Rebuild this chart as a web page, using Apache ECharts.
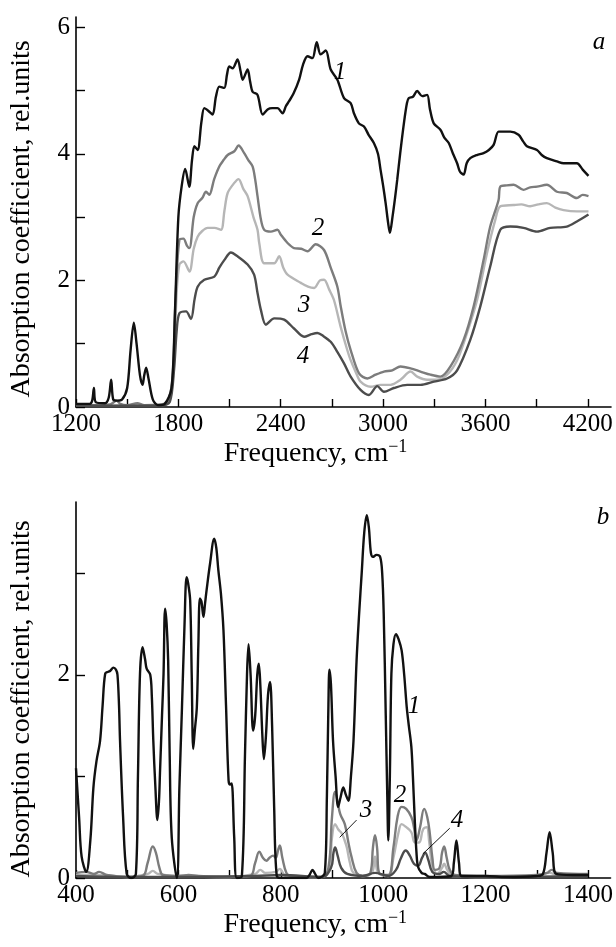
<!DOCTYPE html>
<html>
<head>
<meta charset="utf-8">
<script src="https://cdn.jsdelivr.net/npm/echarts@6/dist/echarts.min.js"></script>
<style>
html,body{margin:0;padding:0;background:#fff;}
#chart{width:616px;height:947px;}
</style>
</head>
<body>
<div id="chart"></div>
<script>
// ---------- Panel a (top) ----------
const topXTicks = [1200,1500,1800,2100,2400,2700,3000,3300,3600,3900,4200];
const topXLabels = [1200,1800,2400,3000,3600,4200];
const topYTicks = [0,1,2,3,4,5,6];
const topYLabels = [0,2,4,6];

const topCurve1 = [[1200,0.05],[1280,0.05],[1295,0.1],[1305,0.3],[1315,0.08],[1370,0.06],[1392,0.15],[1406,0.43],[1418,0.12],[1440,0.1],[1470,0.12],[1500,0.3],[1520,0.9],[1539,1.33],[1555,1.0],[1575,0.5],[1590,0.35],[1600,0.5],[1611,0.62],[1625,0.45],[1650,0.12],[1680,0.03],[1720,0.05],[1760,0.3],[1780,1.5],[1800,3.0],[1820,3.5],[1840,3.76],[1864,3.48],[1880,3.9],[1894,4.12],[1913,4.06],[1935,4.5],[1952,4.72],[1975,4.68],[2001,4.62],[2020,4.9],[2040,5.06],[2069,5.04],[2085,5.25],[2098,5.38],[2118,5.35],[2147,5.49],[2165,5.3],[2177,5.17],[2206,5.33],[2220,5.15],[2235,4.98],[2264,4.93],[2294,4.62],[2323,4.70],[2350,4.72],[2381,4.72],[2411,4.64],[2430,4.75],[2449,4.83],[2475,4.95],[2508,5.17],[2530,5.4],[2557,5.54],[2586,5.51],[2611,5.76],[2634,5.57],[2664,5.63],[2693,5.33],[2732,5.17],[2771,4.88],[2810,4.80],[2829,4.64],[2858,4.48],[2888,4.43],[2915,4.3],[2946,4.17],[2970,4.0],[2985,3.75],[3000,3.5],[3015,3.22],[3030,2.9],[3040,2.75],[3055,3.0],[3070,3.3],[3083,3.59],[3100,4.0],[3122,4.48],[3140,4.8],[3151,4.88],[3175,4.9],[3200,4.99],[3229,4.91],[3258,4.93],[3275,4.7],[3297,4.48],[3336,4.38],[3360,4.25],[3385,4.17],[3410,4.0],[3434,3.85],[3450,3.72],[3472,3.67],[3490,3.85],[3511,3.93],[3550,3.98],[3589,4.01],[3620,4.06],[3648,4.14],[3677,4.35],[3710,4.35],[3746,4.35],[3794,4.30],[3820,4.2],[3843,4.12],[3902,4.06],[3930,3.98],[3960,3.93],[4019,3.88],[4058,3.85],[4100,3.85],[4136,3.85],[4170,3.75],[4204,3.65]];
const topCurve2 = [[1200,0.03],[1300,0.03],[1400,0.04],[1437,0.1],[1460,0.05],[1500,0.03],[1560,0.06],[1600,0.03],[1700,0.04],[1740,0.1],[1767,0.5],[1785,1.8],[1806,2.64],[1830,2.66],[1850,2.55],[1865,2.51],[1890,3.0],[1913,3.22],[1940,3.3],[1962,3.40],[1981,3.35],[2010,3.6],[2040,3.80],[2065,3.9],[2089,3.98],[2128,4.04],[2153,4.13],[2186,4.01],[2210,3.9],[2235,3.80],[2250,3.6],[2264,3.33],[2284,2.96],[2303,2.80],[2342,2.77],[2381,2.80],[2401,2.72],[2440,2.59],[2478,2.51],[2520,2.5],[2557,2.46],[2605,2.57],[2654,2.48],[2693,2.2],[2732,1.90],[2751,1.6],[2780,1.2],[2810,0.90],[2859,0.53],[2908,0.45],[2956,0.51],[3005,0.56],[3054,0.58],[3102,0.64],[3161,0.61],[3219,0.56],[3278,0.51],[3336,0.48],[3395,0.64],[3472,1.06],[3531,1.59],[3589,2.32],[3628,2.85],[3677,3.27],[3687,3.48],[3725,3.5],[3765,3.51],[3823,3.43],[3862,3.47],[3902,3.48],[3960,3.51],[4019,3.40],[4077,3.38],[4136,3.30],[4170,3.35],[4204,3.33]];
const topCurve3 = [[1200,0.02],[1400,0.02],[1500,0.03],[1700,0.03],[1750,0.1],[1775,0.8],[1790,1.8],[1806,2.25],[1830,2.3],[1865,2.14],[1890,2.5],[1913,2.69],[1940,2.78],[1972,2.83],[2011,2.83],[2050,2.80],[2070,3.1],[2089,3.38],[2128,3.54],[2153,3.60],[2180,3.45],[2206,3.33],[2240,3.0],[2264,2.80],[2274,2.59],[2303,2.27],[2362,2.27],[2391,2.38],[2415,2.2],[2440,2.09],[2518,1.96],[2560,1.9],[2596,1.88],[2630,2.0],[2654,2.01],[2685,1.85],[2712,1.69],[2751,1.27],[2790,0.9],[2810,0.74],[2840,0.55],[2868,0.40],[2927,0.32],[2985,0.35],[3044,0.35],[3102,0.43],[3161,0.56],[3200,0.48],[3258,0.43],[3317,0.43],[3375,0.51],[3434,0.74],[3492,1.17],[3551,1.69],[3609,2.43],[3658,2.96],[3687,3.17],[3765,3.19],[3810,3.2],[3862,3.17],[3910,3.2],[3960,3.22],[4010,3.15],[4058,3.11],[4136,3.09],[4204,3.09]];
const topCurve4 = [[1200,0.02],[1500,0.02],[1700,0.02],[1750,0.08],[1775,0.6],[1790,1.2],[1806,1.48],[1845,1.51],[1874,1.39],[1895,1.7],[1913,1.90],[1952,2.01],[2011,2.06],[2040,2.2],[2069,2.32],[2108,2.44],[2147,2.38],[2206,2.25],[2244,2.09],[2264,1.8],[2284,1.53],[2313,1.30],[2362,1.40],[2420,1.38],[2478,1.24],[2537,1.11],[2580,1.15],[2615,1.17],[2650,1.12],[2693,1.03],[2730,0.88],[2771,0.69],[2810,0.48],[2868,0.27],[2917,0.19],[2966,0.33],[3005,0.24],[3063,0.30],[3141,0.35],[3219,0.35],[3297,0.40],[3375,0.45],[3434,0.58],[3511,1.06],[3570,1.59],[3628,2.22],[3687,2.80],[3746,2.85],[3823,2.83],[3902,2.77],[3980,2.83],[4077,2.85],[4136,2.93],[4204,3.04]];

// ---------- Panel b (bottom) ----------
const botXTicks = [400,500,600,700,800,900,1000,1100,1200,1300,1400];
const botXLabels = [400,600,800,1000,1200,1400];
const botYTicks = [0,1,2,3];
const botYLabels = [0,2];

const botCurve1 = [[400,1.08],[406,0.6],[411,0.21],[420,0.06],[428,0.37],[434,0.89],[440,1.15],[447,1.35],[452,1.7],[457,2.01],[463,2.03],[467,2.04],[473,2.07],[478,2.05],[481,2.0],[484,1.7],[486,1.35],[492,0.6],[499,0.04],[508,0],[517,0.04],[521,1.0],[525,2.01],[530,2.27],[535,2.15],[538,2.06],[545,2.0],[548,1.8],[551,1.35],[555,0.9],[559,0.57],[562,0.75],[564,1.03],[568,1.6],[571,2.01],[574,2.65],[577,2.5],[580,2.14],[583,1.2],[587,0.4],[597,0],[602,0.9],[607,1.68],[612,2.5],[616,2.96],[619,2.9],[623,2.73],[626,2.0],[629,1.27],[632,1.45],[636,1.68],[639,2.3],[642,2.75],[645,2.72],[649,2.57],[652,2.7],[655,2.83],[662,3.1],[670,3.34],[674,3.25],[678,3.03],[683,2.8],[688,2.44],[693,1.7],[698,0.96],[701,0.92],[704,0.93],[709,0.4],[714,0],[724,0.02],[730,1.2],[734,2.0],[737,2.30],[741,2.0],[746,1.45],[750,1.6],[754,2.0],[757,2.11],[760,1.9],[764,1.4],[767,1.17],[771,1.4],[775,1.8],[779,1.93],[783,1.5],[787,0.7],[792,0.02],[800,0],[850,0],[856,0.03],[862,0.08],[867,0.04],[873,0],[886,0.05],[890,0.8],[893,1.7],[895,2.05],[898,1.9],[902,1.35],[907,1.0],[912,0.70],[917,0.8],[922,0.89],[927,0.82],[932,0.76],[937,1.0],[942,1.35],[948,2.14],[953,2.6],[958,3.0],[963,3.4],[968,3.57],[972,3.45],[976,3.2],[980,3.16],[987,3.18],[994,3.16],[998,3.0],[1001,2.6],[1005,1.6],[1008,0.8],[1010,0.37],[1013,1.0],[1016,2.01],[1020,2.3],[1025,2.40],[1030,2.35],[1036,2.24],[1041,2.0],[1046,1.68],[1050,1.5],[1055,1.29],[1058,1.0],[1062,0.53],[1065,0.25],[1068,0.11],[1075,0.05],[1081,0.04],[1091,0.01],[1133,0.02],[1138,0.15],[1143,0.37],[1148,0.15],[1153,0.02],[1200,0.02],[1240,0.01],[1300,0.02],[1312,0.04],[1319,0.25],[1325,0.45],[1331,0.25],[1338,0.04],[1370,0.03],[1400,0.03]];
const botCurve2 = [[400,0.05],[420,0.06],[435,0.04],[445,0.06],[460,0.03],[500,0.01],[530,0.02],[540,0.15],[550,0.31],[556,0.25],[563,0.1],[570,0.03],[600,0.02],[620,0.03],[640,0.02],[700,0.01],[740,0.02],[750,0.15],[758,0.26],[765,0.2],[772,0.17],[778,0.2],[785,0.22],[790,0.2],[795,0.28],[798,0.32],[803,0.2],[811,0.05],[820,0.02],[880,0.01],[893,0.1],[900,0.6],[906,0.85],[911,0.75],[916,0.63],[925,0.53],[932,0.35],[938,0.21],[948,0.05],[960,0.02],[975,0.05],[980,0.3],[984,0.42],[988,0.3],[992,0.05],[1010,0.03],[1020,0.3],[1028,0.6],[1036,0.70],[1045,0.68],[1055,0.60],[1060,0.5],[1065,0.37],[1072,0.5],[1080,0.68],[1086,0.6],[1091,0.44],[1096,0.2],[1101,0.08],[1110,0.1],[1115,0.25],[1119,0.31],[1124,0.2],[1130,0.08],[1140,0.03],[1200,0.02],[1300,0.03],[1320,0.05],[1329,0.08],[1340,0.05],[1400,0.04]];
const botCurve3 = [[400,0.03],[450,0.03],[500,0.01],[540,0.04],[550,0.07],[560,0.04],[600,0.02],[700,0.01],[750,0.04],[760,0.08],[770,0.05],[790,0.06],[798,0.09],[810,0.02],[880,0.01],[895,0.1],[900,0.4],[906,0.53],[912,0.48],[919,0.44],[924,0.38],[929,0.30],[935,0.15],[942,0.05],[960,0.02],[978,0.05],[984,0.21],[990,0.05],[1010,0.02],[1020,0.2],[1030,0.45],[1036,0.53],[1045,0.5],[1055,0.45],[1062,0.35],[1070,0.35],[1078,0.48],[1085,0.50],[1090,0.35],[1096,0.12],[1105,0.04],[1115,0.1],[1119,0.14],[1125,0.08],[1135,0.02],[1200,0.01],[1300,0.02],[1325,0.05],[1340,0.03],[1400,0.03]];
const botCurve4 = [[400,0.02],[500,0.01],[600,0.01],[750,0.02],[800,0.03],[880,0.01],[898,0.1],[903,0.25],[906,0.30],[911,0.22],[918,0.1],[930,0.04],[960,0.02],[984,0.05],[1010,0.02],[1025,0.08],[1035,0.2],[1044,0.27],[1052,0.22],[1060,0.14],[1068,0.12],[1076,0.2],[1082,0.25],[1088,0.18],[1096,0.06],[1110,0.04],[1118,0.06],[1130,0.02],[1200,0.01],[1400,0.02]];

// leader lines for labels 3 and 4 in panel b (data coordinates)
const leader3 = [[948,0.57],[915,0.40]];
const leader4 = [[1130,0.49],[1078,0.24]];

const yTitle = 'Absorption coefficient, rel.units';
const xTitle = 'Frequency, cm{sup|\u22121}';

const FONT = 'Liberation Serif';
const C1 = '#111111', C2 = '#7c7c7c', C3 = '#b6b6b6', C4 = '#4c4c4c';

function xAxis(gi, min, max, ticks, labels) {
  return {
    type: 'value', gridIndex: gi, min: min, max: max,
    axisLine: {show: true, onZero: false, lineStyle: {color: '#000', width: 1.6}},
    axisTick: {show: true, inside: true, length: 8, customValues: ticks, lineStyle: {color: '#000', width: 1.4}},
    axisLabel: {show: true, customValues: labels, color: '#000', fontFamily: FONT, fontSize: 25, margin: 5,
      formatter: function (v) { return String(v); }},
    splitLine: {show: false},
    name: xTitle, nameLocation: 'middle', nameGap: 26,
    nameTextStyle: {color: '#000', fontFamily: FONT, fontSize: 28, padding: [0, 56, 0, 0],
      rich: {sup: {fontFamily: FONT, fontSize: 18, verticalAlign: 'top', padding: [0,0,14,0], color: '#000'}}}
  };
}
function yAxis(gi, min, max, ticks, labels, shift) {
  return {
    type: 'value', gridIndex: gi, min: min, max: max,
    axisLine: {show: true, onZero: false, lineStyle: {color: '#000', width: 1.6}},
    axisTick: {show: true, inside: true, length: 9, customValues: ticks, lineStyle: {color: '#000', width: 1.4}},
    axisLabel: {show: true, customValues: labels, color: '#000', fontFamily: FONT, fontSize: 25, margin: 6,
      formatter: function (v) { return String(v); }},
    splitLine: {show: false},
    name: yTitle, nameLocation: 'middle', nameGap: 40, nameRotate: 90,
    nameTextStyle: {color: '#000', fontFamily: FONT, fontSize: 28, padding: [0, shift, 0, 0]}
  };
}
function curve(data, color, xi, yi, smooth) {
  return {type: 'line', data: data, xAxisIndex: xi, yAxisIndex: yi, showSymbol: false, symbol: 'none',
    smooth: smooth, lineStyle: {color: color, width: 2.4}, z: 2, silent: true};
}
function leader(data) {
  return {type: 'line', data: data, xAxisIndex: 1, yAxisIndex: 1, showSymbol: false, symbol: 'none',
    lineStyle: {color: '#000', width: 0.9}, z: 5, silent: true};
}
function label(text, x, y) {
  return {type: 'text', x: x, y: y, style: {text: text, fontFamily: FONT, fontStyle: 'italic', fontSize: 25,
    fill: '#000', align: 'center', verticalAlign: 'middle'}, z: 10};
}

const chart = echarts.init(document.getElementById('chart'), null, {renderer: 'canvas'});
chart.setOption({
  animation: false,
  backgroundColor: '#fff',
  grid: [
    {left: 75, top: 17, width: 536, height: 390},
    {left: 76, top: 502, width: 535, height: 376}
  ],
  xAxis: [xAxis(0, 1200, 4336, topXTicks, topXLabels), xAxis(1, 400, 1444, botXTicks, botXLabels)],
  yAxis: [yAxis(0, 0, 6.16, topYTicks, topYLabels, 14), yAxis(1, 0, 3.7, botYTicks, botYLabels, 18)],
  series: [
    curve(topCurve3, C3, 0, 0, 0.3),
    curve(topCurve2, C2, 0, 0, 0.3),
    curve(topCurve4, C4, 0, 0, 0.3),
    curve(topCurve1, C1, 0, 0, 0.3),
    curve(botCurve3, C3, 1, 1, 0.4),
    curve(botCurve2, C2, 1, 1, 0.4),
    curve(botCurve4, C4, 1, 1, 0.4),
    curve(botCurve1, C1, 1, 1, 0.35),
    leader(leader3),
    leader(leader4)
  ],
  graphic: [
    label('a', 599, 42), label('1', 340, 72), label('2', 318, 228), label('3', 304, 305), label('4', 303, 356),
    label('b', 603, 517), label('1', 414, 706), label('2', 400, 795), label('3', 366, 810), label('4', 457, 820)
  ]
});
</script>
</body>
</html>
